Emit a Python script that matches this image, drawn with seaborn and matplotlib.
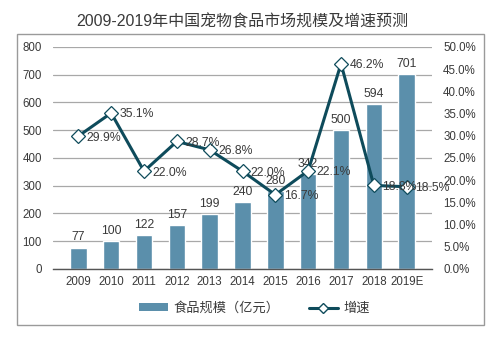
import matplotlib
matplotlib.use("Agg")
import matplotlib.pyplot as plt
from matplotlib.patches import Rectangle, Patch
from matplotlib.lines import Line2D
from matplotlib.ticker import FuncFormatter, MultipleLocator
import seaborn as sns
import pandas as pd

years = ["2009", "2010", "2011", "2012", "2013", "2014", "2015", "2016", "2017", "2018", "2019E"]
market_size = [77, 100, 122, 157, 199, 240, 280, 342, 500, 594, 701]
growth_rate = [29.9, 35.1, 22.0, 28.7, 26.8, 22.0, 16.7, 22.1, 46.2, 18.8, 18.5]

title = "2009-2019年中国宠物食品市场规模及增速预测"
bar_label = "食品规模（亿元）"
line_label = "增速"

bar_color = "#5b8fab"
line_color = "#0e4b5b"
text_color = "#3a3a3a"

sns.set_theme(style="white")
plt.rcParams["font.family"] = ["Liberation Sans", "Noto Sans CJK SC", "DejaVu Sans"]

df = pd.DataFrame({"year": years, "size": market_size, "growth": growth_rate})

fig = plt.figure(figsize=(4.99, 3.37), dpi=100)
fig.patch.set_facecolor("white")

# outer frame
fig.add_artist(Rectangle((0.034, 0.036), 0.936, 0.863, transform=fig.transFigure,
                         fill=False, edgecolor="#9a9a9a", linewidth=1.0))

ax = fig.add_axes([0.106, 0.202, 0.760, 0.659])
sns.barplot(data=df, x="year", y="size", color=bar_color, width=0.5,
            saturation=1, ax=ax, zorder=2)
ax.set_ylim(0, 800)
ax.yaxis.set_major_locator(MultipleLocator(100))
ax.grid(axis="y", color="#a8a8a8", linewidth=0.9, zorder=0)
ax.set_axisbelow(True)
for s in ["top", "right", "left"]:
    ax.spines[s].set_visible(False)
ax.spines["bottom"].set_color("#555555")
ax.spines["bottom"].set_linewidth(1.0)
ax.set_xlabel("")
ax.set_ylabel("")
ax.tick_params(axis="both", length=0, labelsize=8.3, colors=text_color)
ax.tick_params(axis="y", pad=8)
ax.tick_params(axis="x", pad=5)

for i, v in enumerate(market_size):
    ax.annotate(f"{v}", (i, v), xytext=(0, 3), textcoords="offset points",
                ha="center", va="bottom", fontsize=8.8, color=text_color, zorder=3)

ax2 = ax.twinx()
sns.lineplot(data=df, x="year", y="growth", color=line_color, linewidth=2.2,
             marker="D", markersize=7, markerfacecolor="white",
             markeredgecolor=line_color, markeredgewidth=0.9, ax=ax2, sort=False)
ax2.set_ylim(0, 50)
ax2.yaxis.set_major_locator(MultipleLocator(5))
ax2.yaxis.set_major_formatter(FuncFormatter(lambda v, p: f"{v:.1f}%"))
for s in ["top", "right", "left", "bottom"]:
    ax2.spines[s].set_visible(False)
ax2.set_ylabel("")
ax2.tick_params(axis="y", length=0, labelsize=8.3, colors=text_color, pad=8)
ax2.grid(False)

for i, v in enumerate(growth_rate):
    ax2.annotate(f"{v:.1f}%", (i, v), xytext=(6, -1), textcoords="offset points",
                 ha="left", va="center", fontsize=8.8, color=text_color)

ax.set_title(title, fontsize=11.5, color=text_color, y=1.0, pad=15)

handles = [Patch(facecolor=bar_color, edgecolor="none"),
           Line2D([], [], color=line_color, linewidth=2.2, marker="D", markersize=5,
                  markerfacecolor="white", markeredgecolor=line_color)]
fig.legend(handles, [bar_label, line_label], loc="center", bbox_to_anchor=(0.51, 0.085),
           ncol=2, frameon=False, fontsize=9.5, handlelength=2.2, handleheight=0.45,
           columnspacing=2.2, handletextpad=0.4, labelcolor=text_color)

fig.savefig("out.png", dpi=100, facecolor="white")
